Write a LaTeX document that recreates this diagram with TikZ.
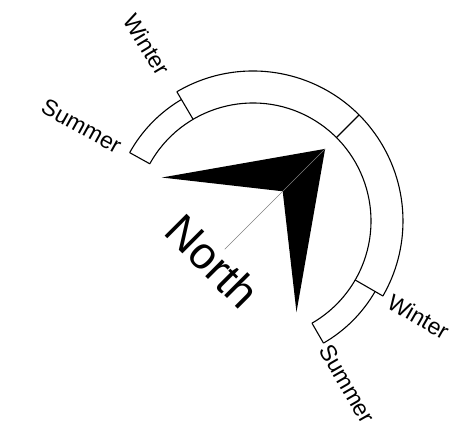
\documentclass[tikz,border=0pt]{standalone}
\usepackage{fontspec}
\setmainfont{Liberation Sans}
\begin{document}
\begin{tikzpicture}[x=1pt, y=1pt,
    band/.style={draw=black, line width=1.1pt},
    lbl/.style={inner sep=0pt, font=\fontsize{23}{27}\selectfont}]
  \useasboundingbox (-253,-207) rectangle (198,221);

  % Compass arrow
  \coordinate (tip) at (45:102);
  \coordinate (wingl) at (154.5:101);
  \coordinate (notch) at (45:42);
  \coordinate (wingr) at (-64.5:101);
  \coordinate (tail) at (225:40);
  \fill[black] (tip) -- (wingl) -- (notch) -- (wingr) -- cycle;
  \draw[gray, line width=0.6pt] (tip) -- (tail);
  \node[inner sep=0pt, rotate=-45, font=\fontsize{45}{54}\selectfont] (north) at (225:57) {North};

  % Inner arc
  \draw[band] (151:118) arc[start angle=151, end angle=-60, radius=118];

  % Summer bands
  \draw[band] (151:141) arc[start angle=151, end angle=120.5, radius=141];
  \draw[band] (-30:141) arc[start angle=-30, end angle=-60, radius=141];

  % Winter band
  \draw[band] (120.5:150) arc[start angle=120.5, end angle=-30, radius=150];

  % Ticks
  \foreach \a/\r in {151/141, 120.5/150, 45/150, -30/150, -60/141}
    \draw[band] (\a:118) -- (\a:\r);

  % Labels
  \node[lbl, rotate=-59] (winterl) at (121:206) {Winter};
  \node[lbl, rotate=-29] (summerl) at (151:196) {Summer};
  \node[lbl, rotate=-30] (winterr) at (-30:191) {Winter};
  \node[lbl, rotate=-60] (summerr) at (-60:188) {Summer};
\end{tikzpicture}
\end{document}
